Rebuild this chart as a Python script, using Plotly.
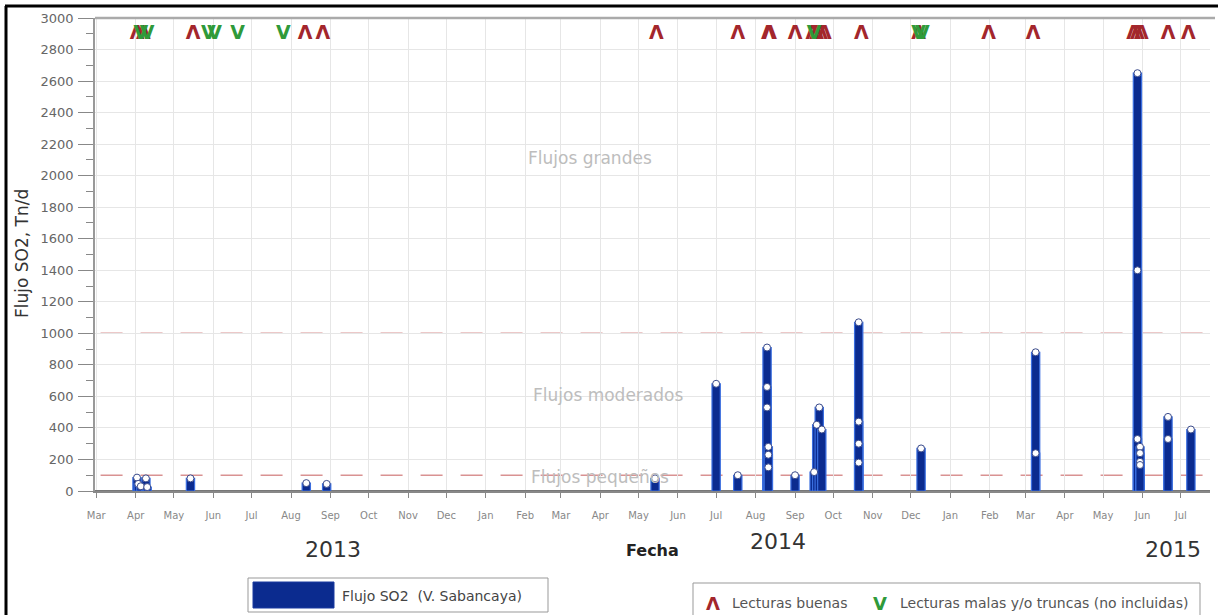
import plotly.graph_objects as go

# ---------------- data ----------------
flux_dates = [
    "2013-04-02", "2013-04-03", "2013-04-05", "2013-04-09", "2013-04-10",
    "2013-05-14", "2013-08-13", "2013-08-29",
    "2014-05-14", "2014-07-01", "2014-07-18",
    "2014-08-10", "2014-08-10", "2014-08-10",
    "2014-08-11", "2014-08-11", "2014-08-11",
    "2014-09-01", "2014-09-16", "2014-09-18", "2014-09-20", "2014-09-22",
    "2014-10-21", "2014-10-21", "2014-10-21", "2014-10-21",
    "2014-12-09",
    "2015-03-09", "2015-03-09",
    "2015-05-28", "2015-05-28", "2015-05-28",
    "2015-05-30", "2015-05-30", "2015-05-30", "2015-05-30",
    "2015-06-21", "2015-06-21",
    "2015-07-09",
]
flux_values = [
    85, 45, 30, 80, 25,
    80, 50, 45,
    80, 680, 100,
    910, 660, 530,
    280, 230, 150,
    100, 120, 420, 530, 390,
    1070, 440, 300, 180,
    270,
    880, 240,
    2650, 1400, 330,
    280, 240, 185, 165,
    470, 330,
    390,
]

good_dates = [
    "2013-04-02", "2013-04-07", "2013-05-16", "2013-08-12", "2013-08-26",
    "2014-05-15", "2014-07-18", "2014-08-11", "2014-08-12", "2014-09-01",
    "2014-09-15", "2014-09-18", "2014-09-21", "2014-09-24", "2014-10-23",
    "2014-12-07", "2015-01-31", "2015-03-07", "2015-05-25", "2015-05-28",
    "2015-05-31", "2015-06-21", "2015-07-07",
]
bad_dates = [
    "2013-04-05", "2013-04-10", "2013-05-28", "2013-06-02", "2013-06-20",
    "2013-07-26", "2014-09-16", "2014-12-07", "2014-12-10",
]

thresholds = [100, 1000]
zone_labels = ["Flujos pequeños", "Flujos moderados", "Flujos grandes"]
zone_label_levels = [90, 610, 2110]
year_labels = ["2013", "2014", "2015"]

# ---------------- styling / geometry ----------------
W, H = 1218, 615
L, R, T, B = 95, 8, 18, 124
PW, PH = W - L - R, H - T - B
MARKER_LEVEL = 2900
RED = "#a3262c"
GREEN = "#2f9a3a"
FONT = "DejaVu Sans"


def px(x):
    return (x - L) / PW


def py(y):
    return (H - B - y) / PH


fig = go.Figure()

fig.add_trace(go.Bar(
    x=flux_dates, y=flux_values,
    width=[6.5 * 86400000] * len(flux_values),
    marker=dict(color="#0b2b8f", line=dict(color="#3a6ee0", width=1.2)),
    showlegend=False, hoverinfo="x+y",
))
fig.add_trace(go.Scatter(
    x=flux_dates, y=flux_values, mode="markers",
    marker=dict(size=7, color="white", line=dict(color="#3a4a8a", width=1)),
    showlegend=False,
))
fig.add_trace(go.Scatter(
    x=good_dates, y=[MARKER_LEVEL] * len(good_dates), mode="text",
    text=["Λ"] * len(good_dates),
    textfont=dict(color=RED, size=19, family="DejaVu Sans", weight="bold"),
    showlegend=False,
))
fig.add_trace(go.Scatter(
    x=bad_dates, y=[MARKER_LEVEL] * len(bad_dates), mode="text",
    text=["V"] * len(bad_dates),
    textfont=dict(color=GREEN, size=19, family="DejaVu Sans", weight="bold"),
    showlegend=False,
))

shapes = []
for t in thresholds:
    shapes.append(dict(type="line", xref="paper", yref="y", x0=0.005, x1=1, y0=t, y1=t,
                       line=dict(color="#d99292", width=1.5, dash="22px,18px"), layer="below"))

# figure frame (left and top black lines)
shapes.append(dict(type="line", xref="paper", yref="paper", x0=px(6), x1=px(6), y0=py(6), y1=py(620),
                   line=dict(color="black", width=3)))
shapes.append(dict(type="line", xref="paper", yref="paper", x0=px(5), x1=px(1220), y0=py(6), y1=py(6),
                   line=dict(color="black", width=3)))

# legend boxes
shapes.append(dict(type="rect", xref="paper", yref="paper", x0=px(248), x1=px(548), y0=py(578), y1=py(612),
                   line=dict(color="#999", width=1), fillcolor="white"))
shapes.append(dict(type="rect", xref="paper", yref="paper", x0=px(253), x1=px(334), y0=py(582), y1=py(608),
                   line=dict(color="#1a3aa0", width=1), fillcolor="#0b2b8f"))
shapes.append(dict(type="rect", xref="paper", yref="paper", x0=px(693), x1=px(1200), y0=py(583), y1=py(625),
                   line=dict(color="#999", width=1), fillcolor="white"))

annotations = []
zone_x = [600, 608, 590]
for lab, lev, zx in zip(zone_labels, zone_label_levels, zone_x):
    annotations.append(dict(x=px(zx), xref="paper", y=lev, yref="y", text=lab, showarrow=False,
                            xanchor="center", yanchor="middle",
                            font=dict(family=FONT, size=17, color="#bdbdbd")))


def note(x, y, text, size, color, family=FONT, xanchor="center", angle=0):
    annotations.append(dict(x=px(x), y=py(y), xref="paper", yref="paper", text=text,
                            showarrow=False, xanchor=xanchor, yanchor="middle", textangle=angle,
                            font=dict(family=family, size=size, color=color)))


year_pos = [(333, 549), (778, 541), (1173, 549)]
for lab, (xx, yy) in zip(year_labels, year_pos):
    note(xx, yy, lab, 22, "#333")
note(652, 550, "<b>Fecha</b>", 16, "#222")
note(22, 254, "Flujo SO2, Tn/d", 17, "#333", angle=-90)

# legend texts
note(340, 596, "Flujo SO2  (V. Sabancaya)", 14, "#444", xanchor="left")
note(713, 603, "<b>Λ</b>", 18, RED)
note(730, 603, "Lecturas buenas", 14, "#555", xanchor="left")
note(880, 603, "<b>V</b>", 18, GREEN)
note(898, 603, "Lecturas malas y/o truncas (no incluidas)", 14, "#555", xanchor="left")

fig.update_layout(
    width=W, height=H,
    margin=dict(l=L, r=R, t=T, b=B),
    paper_bgcolor="white", plot_bgcolor="white",
    barmode="overlay",
    showlegend=False,
    shapes=shapes,
    annotations=annotations,
    font=dict(family=FONT),
    xaxis=dict(
        type="date", range=["2013-02-28", "2015-07-24"],
        tick0="2013-03-01", dtick="M1", tickformat="%b",
        ticks="outside", ticklen=5, tickcolor="#888",
        tickfont=dict(size=10, color="#888"), ticklabelstandoff=9,
        showgrid=True, gridcolor="#e6e6e6", gridwidth=1,
        showline=True, linecolor="#888", linewidth=1.5, mirror=False,
        zeroline=False,
    ),
    yaxis=dict(
        range=[0, 3000], dtick=200, tick0=0,
        ticks="outside", ticklen=15, tickcolor="#888",
        tickfont=dict(size=13, color="#666"), ticklabelstandoff=2,
        minor=dict(dtick=100, ticks="outside", ticklen=7, tickcolor="#888", showgrid=False),
        showgrid=True, gridcolor="#e6e6e6", gridwidth=1,
        showline=True, linecolor="#999", linewidth=1.5,
        zeroline=True, zerolinecolor="#777", zerolinewidth=1.5,
    ),
)
# top border of plot area
fig.add_shape(type="line", xref="paper", yref="paper", x0=0, x1=px(1215), y0=1, y1=1,
              line=dict(color="#aaa", width=2.5))

fig.write_html("out.html")
